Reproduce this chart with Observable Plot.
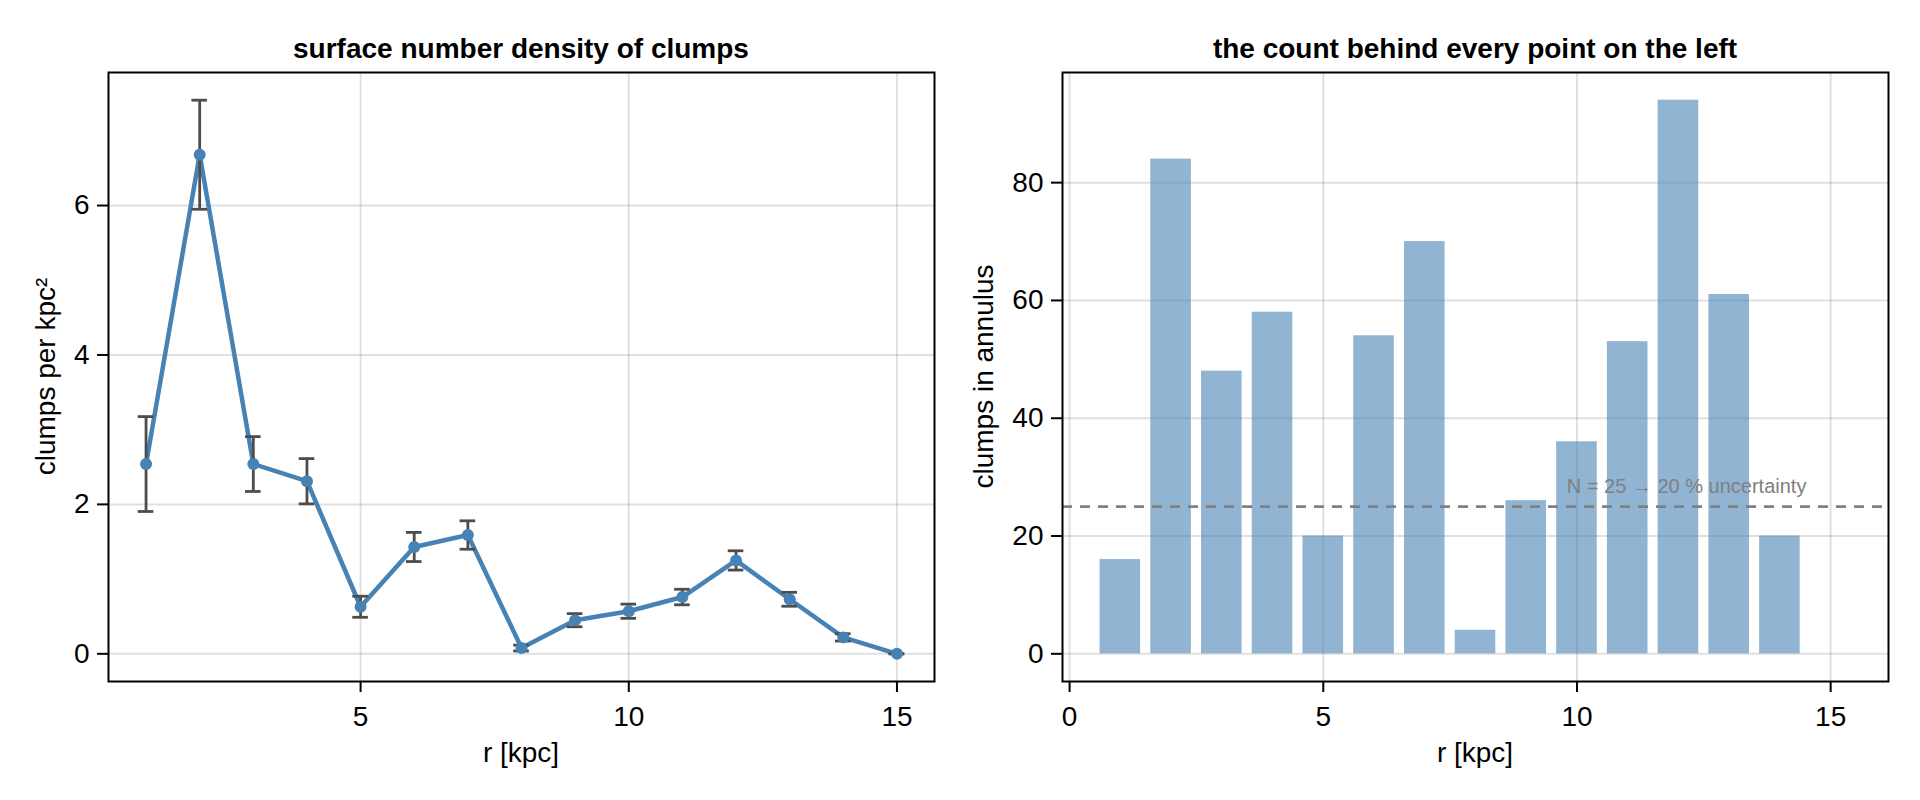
<!DOCTYPE html>
<html>
<head>
<meta charset="utf-8">
<script src="https://cdn.jsdelivr.net/npm/d3@7"></script>
<script src="https://cdn.jsdelivr.net/npm/@observablehq/plot@0.6"></script>
<style>
  html, body { margin: 0; padding: 0; background: #fff; }
  #wrap { position: relative; width: 1920px; height: 800px; font-family: "Liberation Sans", Arial, sans-serif; }
  #wrap > svg { position: absolute; top: 0; }
</style>
</head>
<body>
<div id="wrap"></div>
<script>
// ---- data ----
const radius     = [1, 2, 3, 4, 5, 6, 7, 8, 9, 10, 11, 12, 13, 14, 15];
const density    = [2.54, 6.68, 2.54, 2.31, 0.63, 1.43, 1.59, 0.077, 0.45, 0.57, 0.76, 1.25, 0.73, 0.22, 0];
const densityErr = [0.635, 0.73, 0.367, 0.303, 0.141, 0.195, 0.19, 0.039, 0.088, 0.095, 0.104, 0.129, 0.093, 0.049, 0];
const counts     = [16, 84, 48, 58, 20, 54, 70, 4, 26, 36, 53, 94, 61, 20, 0];
const threshold  = 25;
const noteText   = "N = 25 \u2192 20 % uncertainty";
const leftXTicks  = [5, 10, 15];
const leftYTicks  = [0, 2, 4, 6];
const rightXTicks = [0, 5, 10, 15];
const rightYTicks = [0, 20, 40, 60, 80];
const titles  = ["surface number density of clumps", "the count behind every point on the left"];
const xLabel  = "r [kpc]";
const yLabels = ["clumps per kpc\u00B2", "clumps in annulus"];

const rows = radius.map((r, i) => ({
  r, d: density[i], lo: density[i] - densityErr[i], hi: density[i] + densityErr[i], n: counts[i]
}));

function padded(lo, hi, f = 0.05) { const p = (hi - lo) * f; return [lo - p, hi + p]; }

const FONT = "Liberation Sans, Arial, sans-serif";
const wrap = document.getElementById("wrap");

const grids = (xt, yt) => [
  Plot.gridX(xt, {stroke: "black", strokeOpacity: 0.12, strokeWidth: 2}),
  Plot.gridY(yt, {stroke: "black", strokeOpacity: 0.12, strokeWidth: 2}),
];
const axes = (xt, yt) => [
  Plot.axisX(xt, {tickSize: 11, tickPadding: 14, fontSize: 28, strokeWidth: 2, label: null, tickFormat: d => String(d), fill: "black", stroke: "black"}),
  Plot.axisY(yt, {tickSize: 11, tickPadding: 8, fontSize: 28, strokeWidth: 2, label: null, tickFormat: d => String(d), fill: "black", stroke: "black"}),
  Plot.frame({stroke: "black", strokeWidth: 2})
];

// ---- left panel ----
const leftY = padded(d3.min(rows, d => d.lo), d3.max(rows, d => d.hi));
const leftX = padded(d3.min(radius), d3.max(radius));
const errStyle = {stroke: "#4d4d4d", strokeWidth: 2.8};
const left = Plot.plot({
  width: 960, height: 800,
  marginLeft: 108, marginRight: 26, marginTop: 72, marginBottom: 119,
  style: {fontFamily: FONT, color: "black", background: "transparent"},
  x: {domain: leftX},
  y: {domain: leftY},
  marks: [
    ...grids(leftXTicks, leftYTicks),
    Plot.line(rows, {x: "r", y: "d", stroke: "steelblue", strokeWidth: 4.5, strokeLinejoin: "round"}),
    Plot.ruleX(rows, {x: "r", y1: "lo", y2: "hi", ...errStyle}),
    Plot.ruleY(rows, {y: "hi", x1: "r", x2: "r", insetLeft: -7.8, insetRight: -7.8, ...errStyle}),
    Plot.ruleY(rows, {y: "lo", x1: "r", x2: "r", insetLeft: -7.8, insetRight: -7.8, ...errStyle}),
    Plot.dot(rows, {x: "r", y: "d", r: 6, fill: "steelblue", stroke: "none"}),
    ...axes(leftXTicks, leftYTicks)
  ]
});
left.style.left = "0px";
wrap.appendChild(left);

// ---- right panel ----
const halfW = 0.4;
const rightX = padded(d3.min(radius) - halfW, d3.max(radius) + halfW);
const rightY = padded(0, d3.max(counts));
const right = Plot.plot({
  width: 960, height: 800,
  marginLeft: 102, marginRight: 32, marginTop: 72, marginBottom: 119,
  style: {fontFamily: FONT, color: "black", background: "transparent"},
  x: {domain: rightX},
  y: {domain: rightY},
  marks: [
    ...grids(rightXTicks, rightYTicks),
    Plot.rectY(rows, {x1: d => d.r - halfW, x2: d => d.r + halfW, y1: 0, y2: "n", fill: "steelblue", fillOpacity: 0.6}),
    Plot.ruleY([threshold], {stroke: "#808080", strokeWidth: 2.8, strokeDasharray: "10,8"}),
    Plot.text([{x: 9.8, y: 27, t: noteText}], {x: "x", y: "y", text: "t", textAnchor: "start", lineAnchor: "bottom", fill: "#808080", fontSize: 20, dy: -2}),
    ...axes(rightXTicks, rightYTicks)
  ]
});
right.style.left = "960px";
wrap.appendChild(right);

// ---- titles and axis labels ----
const ov = d3.create("svg").attr("width", 1920).attr("height", 800)
  .style("left", "0px").style("font-family", FONT).style("pointer-events", "none");
const panels = [
  {cx: (108 + 934) / 2, cy: (72 + 681) / 2, ylx: 55},
  {cx: (1062 + 1888) / 2, cy: (72 + 681) / 2, ylx: 993}
];
panels.forEach((p, i) => {
  ov.append("text").attr("x", p.cx).attr("y", 58).attr("text-anchor", "middle")
    .attr("font-size", 28).attr("font-weight", "bold").attr("fill", "black").text(titles[i]);
  ov.append("text").attr("x", p.cx).attr("y", 762).attr("text-anchor", "middle")
    .attr("font-size", 28).attr("fill", "black").text(xLabel);
  ov.append("text").attr("transform", `translate(${p.ylx},${p.cy}) rotate(-90)`).attr("text-anchor", "middle")
    .attr("font-size", 28).attr("fill", "black").text(yLabels[i]);
});
wrap.appendChild(ov.node());
</script>
</body>
</html>
